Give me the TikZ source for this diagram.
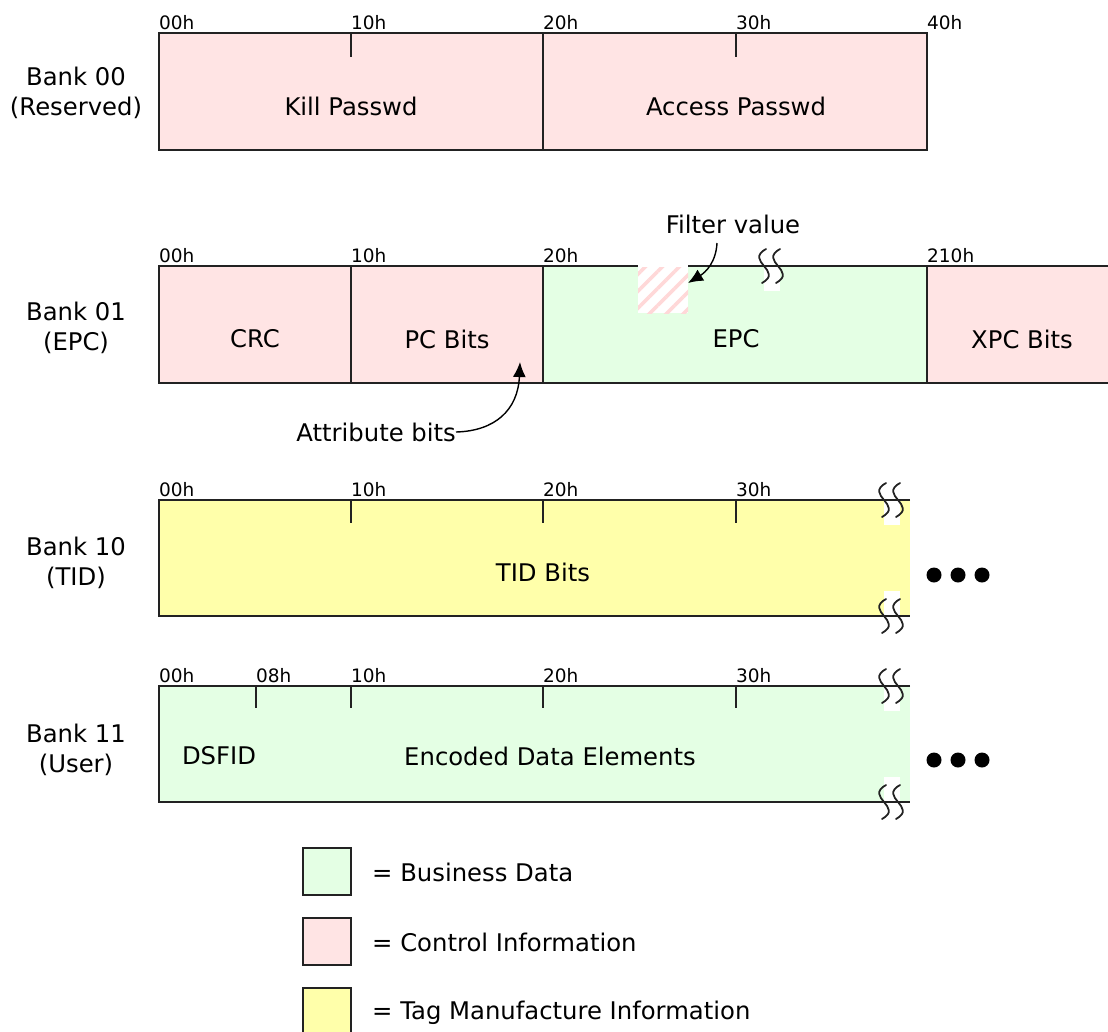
\documentclass[tikz,border=0pt]{standalone}
\usepackage{fontspec}
\setmainfont{DejaVu Sans}
\usetikzlibrary{arrows.meta,patterns.meta}
\definecolor{ctrl}{HTML}{FFE4E4}
\definecolor{biz}{HTML}{E4FFE4}
\definecolor{tagm}{HTML}{FFFFAA}
\definecolor{ln}{HTML}{222222}
\definecolor{hatch}{HTML}{FFD8D8}
\tikzset{
  x=1pt,y=-1pt,
  cell/.style={draw=ln,line width=2pt},
  edge/.style={draw=ln,line width=2pt},
  tick/.style={draw=ln,line width=2pt},
  addr/.style={anchor=base west,inner sep=0pt,font=\fontsize{18.5}{21}\selectfont},
  lbl/.style={inner sep=0pt,font=\fontsize{24.3}{29}\selectfont},
  bank/.style={inner sep=0pt,align=center,font=\fontsize{24.3}{30}\selectfont},
  brk/.style={draw=ln,line width=1.8pt,line cap=round},
  callout/.style={draw=black,line width=1.4pt,-{Latex[length=15pt,width=13pt]}},
  dot/.style={circle,fill=black,inner sep=0pt,minimum size=15pt}
}
\newcommand{\wavepair}[2]{%
  \draw[brk] (#1-5,#2-17) .. controls (#1-27,#2-5) and (#1+13,#2+5) .. (#1-9,#2+17);
  \draw[brk] (#1+9,#2-17) .. controls (#1-13,#2-5) and (#1+27,#2+5) .. (#1+5,#2+17);
}
\newcommand{\brkmark}[2]{%
  \fill[white] (#1-7,#2+1) rectangle (#1+9,#2+25);
  \wavepair{#1}{#2}
}
\newcommand{\brkmarkb}[2]{%
  \fill[white] (#1-7,#2-25) rectangle (#1+9,#2-1);
  \wavepair{#1}{#2}
}
\begin{document}
\begin{tikzpicture}
\useasboundingbox (0,0) rectangle (1108,1031);

% ---------- Bank 00 ----------
\node[bank] (b00) at (76,93) {Bank 00\\(Reserved)};
\filldraw[cell,fill=ctrl] (159,33) rectangle (543,150);
\filldraw[cell,fill=ctrl] (543,33) rectangle (927,150);
\draw[tick] (351,33) -- (351,57);
\draw[tick] (736,33) -- (736,57);
\node[lbl] (kill) at (351,106) {Kill Passwd};
\node[lbl] (acc) at (736,106) {Access Passwd};
\node[addr] (a00a) at (159,29) {00h};
\node[addr] (a00b) at (351,29) {10h};
\node[addr] (a00c) at (543,29) {20h};
\node[addr] (a00d) at (736,29) {30h};
\node[addr] (a00e) at (927,29) {40h};

% ---------- Bank 01 ----------
\node[bank] (b01) at (76,328) {Bank 01\\(EPC)};
\filldraw[cell,fill=ctrl] (159,266) rectangle (351,383);
\filldraw[cell,fill=ctrl] (351,266) rectangle (543,383);
\filldraw[cell,fill=biz] (543,266) rectangle (927,383);
\fill[ctrl] (927,266) rectangle (1108,383);
\draw[edge] (927,266) -- (1110,266);
\draw[edge] (927,383) -- (1110,383);
\draw[edge] (927,266) -- (927,383);
% hatched filter area
\fill[white] (638,264) rectangle (688,313);
\begin{scope}
\clip (638,267) rectangle (688,313);
\fill[pattern={Lines[angle=45,distance=12pt,line width=3.5pt]},pattern color=hatch] (630,260) rectangle (700,320);
\end{scope}
\brkmark{771}{266}
\node[lbl] (crc) at (255,339) {CRC};
\node[lbl] (pc) at (447,339) {PC Bits};
\node[lbl] (epc) at (736,339) {EPC};
\node[lbl] (xpc) at (1022,339) {XPC Bits};
\node[addr] (a01a) at (159,262) {00h};
\node[addr] (a01b) at (351,262) {10h};
\node[addr] (a01c) at (543,262) {20h};
\node[addr] (a01d) at (927,262) {210h};
\node[lbl] (filt) at (733,224) {Filter value};
\coordinate (filtstart) at (717,243);
\coordinate (filttip) at (688,283);
\draw[callout] (filtstart) .. controls (716,262) and (706,272) .. (filttip);
\node[lbl,anchor=east] (attr) at (456,432) {Attribute bits};
\coordinate (attrtip) at (520,362);
\draw[callout] (attr.east) .. controls (495,431) and (518,410) .. (attrtip);

% ---------- Bank 10 ----------
\node[bank] (b10) at (76,563) {Bank 10\\(TID)};
\fill[tagm] (159,500) rectangle (910,616);
\draw[edge] (910,500) -- (159,500) -- (159,616) -- (910,616);
\draw[tick] (351,500) -- (351,523);
\draw[tick] (543,500) -- (543,523);
\draw[tick] (736,500) -- (736,523);
\brkmark{891}{500}
\brkmarkb{891}{616}
\node[lbl] (tid) at (543,572) {TID Bits};
\node[addr] (a10a) at (159,496) {00h};
\node[addr] (a10b) at (351,496) {10h};
\node[addr] (a10c) at (543,496) {20h};
\node[addr] (a10d) at (736,496) {30h};
\node[dot] (d10a) at (934,575) {};
\node[dot] (d10b) at (958,575) {};
\node[dot] (d10c) at (982,575) {};

% ---------- Bank 11 ----------
\node[bank] (b11) at (76,750) {Bank 11\\(User)};
\fill[biz] (159,686) rectangle (910,802);
\draw[edge] (910,686) -- (159,686) -- (159,802) -- (910,802);
\draw[tick] (256,686) -- (256,708);
\draw[tick] (351,686) -- (351,708);
\draw[tick] (543,686) -- (543,708);
\draw[tick] (736,686) -- (736,708);
\brkmark{891}{686}
\brkmarkb{891}{802}
\node[lbl] (dsfid) at (219,756) {DSFID};
\node[lbl] (enc) at (550,756) {Encoded Data Elements};
\node[addr] (a11a) at (159,682) {00h};
\node[addr] (a11b) at (256,682) {08h};
\node[addr] (a11c) at (351,682) {10h};
\node[addr] (a11d) at (543,682) {20h};
\node[addr] (a11e) at (736,682) {30h};
\node[dot] (d11a) at (934,760) {};
\node[dot] (d11b) at (958,760) {};
\node[dot] (d11c) at (982,760) {};

% ---------- Legend ----------
\filldraw[cell,fill=biz] (303,848) rectangle (351,895);
\filldraw[cell,fill=ctrl] (303,918) rectangle (351,965);
\filldraw[cell,fill=tagm] (303,988) rectangle (351,1036);
\node[lbl,anchor=west] (lg1) at (372,872) {= Business Data};
\node[lbl,anchor=west] (lg2) at (372,942) {= Control Information};
\node[lbl,anchor=west] (lg3) at (372,1013) {= Tag Manufacture Information};
\end{tikzpicture}
\end{document}
